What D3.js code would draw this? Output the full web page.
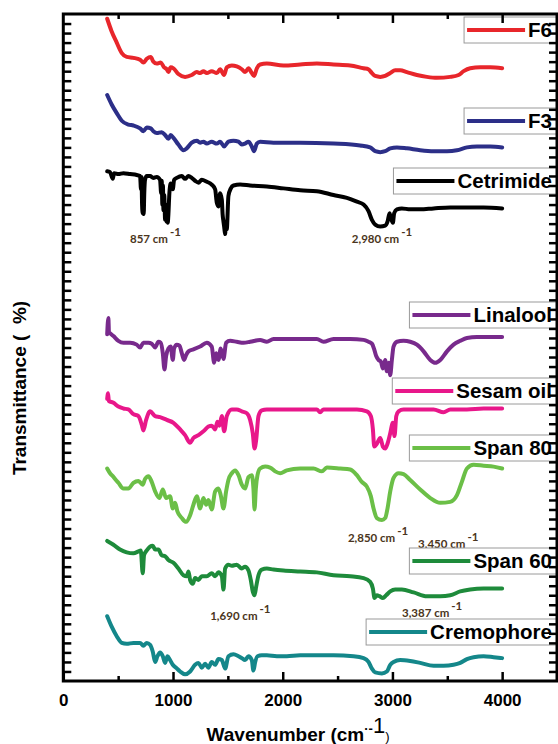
<!DOCTYPE html>
<html>
<head>
<meta charset="utf-8">
<script src="https://cdn.jsdelivr.net/npm/d3@7"></script>
<style>
  html, body { margin: 0; padding: 0; background: #fff; }
  svg { display: block; font-family: 'Liberation Sans', Arial, sans-serif; }
</style>
</head>
<body>
<div id="chart"></div>
<script>
// wavenumber (cm-1), transmittance (stacked, arbitrary units)
const f6 = [[400,695],[440,682],[487,670],[533,659],[578,655],[640,654],[700,652],[730,649],[761,653],[797,655],[821,650],[852,648],[888,649],[919,644],[943,642],[958,639],[979,644],[1004,643],[1049,637],[1110,634],[1171,636],[1217,639],[1247,638],[1277,640],[1308,638],[1353,640],[1399,638],[1429,642],[1466,636],[1490,644],[1536,646],[1581,645],[1627,642],[1657,639],[1688,643],[1718,638],[1739,635],[1764,643],[1794,647],[1855,648],[2007,646],[2159,647],[2311,648],[2463,647],[2615,646],[2737,643],[2782,642],[2813,638],[2843,635],[2889,634],[2934,635],[2980,638],[3025,641],[3071,641],[3132,639],[3223,636],[3314,634],[3405,633],[3527,634],[3603,636],[3649,640],[3709,643],[3801,644],[3892,644],[4000,643]]
const f3 = [[400,615],[441,605],[487,596],[533,588],[593,584],[639,583],[700,580],[730,577],[761,581],[797,580],[821,577],[852,575],[897,576],[928,573],[958,569],[979,573],[1004,570],[1049,563],[1095,557],[1125,559],[1171,565],[1217,567],[1247,565],[1277,566],[1308,564],[1353,566],[1399,564],[1429,566],[1466,561],[1505,566],[1551,567],[1597,566],[1627,563],[1657,564],[1688,566],[1718,561],[1739,556],[1764,564],[1794,566],[1916,565],[2159,565],[2463,564],[2706,562],[2797,560],[2843,556],[2889,555],[2934,556],[2980,559],[3041,560],[3132,559],[3253,557],[3375,556],[3497,556],[3588,557],[3679,560],[3770,561],[3892,561],[4000,560]]
const cetrimide = [[400,535],[426,534],[451,527],[463,533],[502,532],[548,533],[609,532],[669,531],[700,530],[708,516],[713,529],[718,500],[724,491],[729,503],[733,490],[738,512],[745,526],[761,530],[791,530],[821,528],[852,529],[882,526],[892,512],[897,525],[903,500],[908,520],[913,494],[920,510],[928,484],[934,500],[940,482],[946,496],[952,481],[958,490],[967,512],[979,522],[998,516],[1010,526],[1034,528],[1080,530],[1110,527],[1141,530],[1171,528],[1201,525],[1232,523],[1262,526],[1308,524],[1353,521],[1384,516],[1399,502],[1414,498],[1429,512],[1445,505],[1452,490],[1460,482],[1468,475],[1475,469],[1482,480],[1490,474],[1505,509],[1527,517],[1551,520],[1612,521],[1703,520],[1855,519],[2007,517],[2159,515],[2311,514],[2463,510],[2585,507],[2676,503],[2737,500],[2782,493],[2813,484],[2843,479],[2889,477],[2934,478],[2955,482],[2974,491],[2986,486],[3004,481],[3016,491],[3041,495],[3086,496],[3162,495],[3253,495],[3375,496],[3527,497],[3679,497],[3831,497],[4000,496]]
const linalool = [[400,364],[411,381],[416,366],[426,365],[457,362],[502,357],[548,355],[609,355],[669,353],[700,350],[730,355],[776,355],[806,354],[837,350],[867,356],[888,355],[907,344],[922,327],[937,341],[958,349],[979,351],[998,337],[1010,349],[1034,353],[1059,352],[1080,344],[1101,337],[1119,342],[1141,346],[1186,348],[1247,351],[1308,355],[1353,351],[1375,334],[1393,344],[1414,337],[1435,349],[1460,338],[1484,355],[1521,357],[1581,356],[1642,355],[1703,356],[1794,358],[1855,356],[1916,359],[2037,359],[2159,359],[2311,359],[2372,356],[2463,359],[2615,359],[2737,358],[2782,356],[2813,354],[2834,348],[2852,341],[2873,337],[2895,335],[2913,328],[2934,337],[2949,325],[2965,334],[2980,321],[2995,337],[3010,351],[3041,356],[3101,357],[3162,356],[3223,353],[3284,346],[3345,337],[3390,334],[3436,337],[3497,346],[3557,353],[3618,357],[3679,360],[3770,361],[3892,361],[4000,361]]
const sesamOil = [[400,296],[408,302],[415,294],[457,292],[502,288],[548,286],[593,285],[639,280],[685,278],[715,269],[730,263],[755,274],[791,283],[837,278],[882,277],[943,274],[1004,271],[1065,264],[1110,258],[1156,250],[1186,255],[1232,258],[1277,262],[1323,267],[1353,268],[1384,264],[1405,272],[1423,268],[1445,278],[1466,262],[1490,278],[1536,285],[1581,285],[1627,283],[1673,281],[1703,274],[1727,260],[1743,244],[1758,253],[1779,278],[1809,284],[1855,285],[1977,285],[2159,285],[2311,285],[2341,282],[2372,285],[2524,285],[2676,285],[2767,283],[2803,278],[2822,264],[2834,246],[2858,249],[2889,255],[2913,246],[2934,244],[2955,249],[2980,260],[3004,271],[3019,257],[3035,278],[3056,283],[3101,285],[3223,285],[3375,285],[3466,282],[3527,285],[3679,285],[3831,286],[4000,286]]
const span80 = [[400,223],[426,218],[451,215],[472,212],[502,208],[548,202],[593,202],[639,208],[685,210],[724,206],[745,212],[776,215],[806,209],[837,199],[876,192],[907,201],[937,192],[973,194],[998,181],[1019,187],[1040,178],[1080,171],[1119,167],[1156,174],[1186,185],[1217,194],[1247,181],[1277,192],[1302,185],[1323,190],[1353,180],[1384,199],[1414,202],[1435,195],[1460,181],[1484,199],[1505,211],[1536,218],[1566,221],[1597,216],[1627,206],[1657,202],[1688,214],[1718,216],[1733,202],[1743,180],[1755,202],[1770,216],[1794,223],[1840,225],[1885,224],[1931,220],[1977,218],[2037,221],[2159,223],[2281,223],[2357,220],[2402,224],[2524,223],[2615,222],[2676,216],[2721,209],[2767,204],[2803,194],[2828,181],[2858,171],[2904,169],[2934,171],[2955,181],[2980,199],[3010,213],[3056,218],[3101,217],[3162,211],[3253,201],[3345,192],[3436,187],[3527,188],[3588,195],[3633,209],[3679,223],[3740,227],[3831,226],[3922,225],[4000,223]]
const span60 = [[400,147],[457,143],[517,138],[578,135],[639,134],[685,136],[706,137],[724,113],[736,132],[761,137],[791,141],[815,142],[837,138],[867,138],[897,132],[928,131],[958,127],[1004,124],[1049,118],[1095,111],[1125,110],[1141,115],[1156,106],[1180,102],[1201,108],[1232,106],[1262,110],[1308,110],[1353,113],[1384,110],[1414,114],[1445,110],[1460,96],[1475,118],[1505,122],[1536,121],[1581,122],[1627,118],[1657,120],[1688,116],[1709,106],[1727,94],[1743,90],[1758,99],[1779,111],[1809,117],[1855,118],[1916,117],[2007,116],[2159,115],[2311,114],[2463,111],[2615,110],[2737,108],[2797,104],[2822,97],[2837,87],[2858,90],[2883,89],[2913,87],[2943,90],[2980,94],[3025,96],[3086,96],[3193,93],[3314,89],[3436,89],[3527,90],[3618,94],[3709,96],[3831,97],[4000,97]]
const cremophore = [[400,68],[441,57],[487,47],[533,40],[578,39],[639,40],[700,40],[730,37],[761,40],[791,38],[815,31],[837,20],[858,26],[882,30],[907,26],[928,19],[949,26],[973,22],[998,17],[1028,14],[1065,10],[1110,7],[1156,10],[1201,17],[1232,19],[1262,14],[1293,18],[1323,14],[1353,20],[1384,17],[1414,23],[1445,22],[1475,13],[1505,26],[1551,28],[1597,26],[1627,24],[1657,22],[1688,26],[1718,22],[1733,11],[1749,20],[1770,26],[1809,27],[1855,27],[1946,26],[2037,26],[2159,27],[2311,27],[2463,27],[2645,26],[2737,24],[2782,20],[2813,13],[2843,9],[2904,8],[2949,10],[2980,17],[3010,20],[3071,22],[3162,21],[3253,19],[3375,16],[3466,16],[3557,17],[3618,19],[3679,23],[3740,25],[3831,26],[3922,25],[4000,24]]

const seriesNames = ['F6', 'F3', 'Cetrimide', 'Linalool', 'Sesam oil', 'Span 80', 'Span 60', 'Cremophore']
const seriesData = [f6, f3, cetrimide, linalool, sesamOil, span80, span60, cremophore]
const seriesColors = ['#e8262b', '#2c2f88', '#000000', '#782a8c', '#e8178a', '#6bbf47', '#1e8b3b', '#14878a']

// peak annotations: label, wavenumber, transmittance
const peakLabels = ['857', '2,980', '2,850', '3,450', '1,690', '3,387']
const peakX = [608, 2630, 2594, 3234, 1339, 3087]
const peakY = [460, 460, 146, 140, 64, 67]

const xTicksMajor = [0, 1000, 2000, 3000, 4000]
const xTicksMinor = [500, 1500, 2500, 3500]

// legend box tops (px), one per series
const legendTop = [17, 108, 168, 302, 378, 435, 548, 619]

const W = 558, H = 744
const x = d3.scaleLinear().domain([0, 4500]).range([63.3, 557])
const y = d3.scaleLinear().domain([0, 700]).range([681, 14])

const svg = d3.select('#chart').append('svg').attr('width', W).attr('height', H)
svg.append('rect').attr('width', W).attr('height', H).attr('fill', '#fff')

// ── Spectra ──────────────────────────────────────────────
const line = d3.line().x(d => x(d[0])).y(d => y(d[1])).curve(d3.curveMonotoneX)
svg.append('g').selectAll('path')
  .data(seriesData)
  .join('path')
  .attr('d', d => line(d))
  .attr('fill', 'none')
  .attr('stroke', (d, i) => seriesColors[i])
  .attr('stroke-width', 4)
  .attr('stroke-linejoin', 'round')
  .attr('stroke-linecap', 'round')

// ── Peak annotations ─────────────────────────────────────
const ann = svg.append('g')
  .style('font-family', 'Lato, "Open Sans", sans-serif')
  .style('font-weight', 'bold')
  .style('font-size', '11.5px')
  .attr('fill', '#4a3520')
peakLabels.forEach((lab, i) => {
  const t = ann.append('text').attr('x', x(peakX[i])).attr('y', y(peakY[i]))
  t.append('tspan').text(lab + '  cm')
  t.append('tspan').attr('dy', -7).attr('dx', 2).text('-1')
})

// ── Legend boxes ─────────────────────────────────────────
seriesNames.forEach((name, i) => {
  const g = svg.append('g')
  const top = legendTop[i]
  const txt = g.append('text')
    .attr('x', 552).attr('y', top + 20)
    .attr('text-anchor', 'end')
    .style('font-size', '20.5px').style('font-weight', 'bold')
    .text(name)
  const tw = txt.node().getComputedTextLength()
  const tx = 552 - tw
  const left = tx - 64
  g.insert('rect', 'text')
    .attr('x', left).attr('y', top).attr('width', 560 - left).attr('height', 26)
    .attr('fill', '#fff').attr('stroke', '#9a9a9a').attr('stroke-width', 1)
  g.insert('line', 'text')
    .attr('x1', left + 3).attr('x2', tx - 3).attr('y1', top + 13).attr('y2', top + 13)
    .attr('stroke', seriesColors[i]).attr('stroke-width', 4)
})

// ── Axes / frame ─────────────────────────────────────────
const tickStyle = g => {
  g.select('.domain').remove()
  g.selectAll('.tick line').attr('stroke', '#000').attr('stroke-width', 2.5)
}
svg.append('g').attr('transform', 'translate(0,681)')
  .call(d3.axisBottom(x).tickValues(xTicksMajor).tickSizeInner(-9).tickSizeOuter(0).tickPadding(13).tickFormat(d3.format('d')))
  .call(tickStyle)
  .call(g => g.selectAll('text').attr('fill', '#000').style('font-size', '17px').style('font-weight', 'bold').style('font-family', "'Liberation Sans', Arial, sans-serif"))
svg.append('g').attr('transform', 'translate(0,681)')
  .call(d3.axisBottom(x).tickValues(xTicksMinor).tickSizeInner(-5).tickSizeOuter(0).tickFormat(''))
  .call(tickStyle)
svg.append('g').attr('transform', 'translate(0,14)')
  .call(d3.axisTop(x).tickValues(xTicksMajor.slice(1)).tickSizeInner(-9).tickSizeOuter(0).tickFormat(''))
  .call(tickStyle)
svg.append('g').attr('transform', 'translate(0,14)')
  .call(d3.axisTop(x).tickValues(xTicksMinor).tickSizeInner(-5).tickSizeOuter(0).tickFormat(''))
  .call(tickStyle)
const yTicks = d3.range(10, 700, 10)
svg.append('g').attr('transform', 'translate(63.3,0)')
  .call(d3.axisLeft(y).tickValues(yTicks).tickSizeInner(-8).tickSizeOuter(0).tickFormat(''))
  .call(tickStyle)
svg.append('g').attr('transform', 'translate(557,0)')
  .call(d3.axisRight(y).tickValues(yTicks).tickSizeInner(-8).tickSizeOuter(0).tickFormat(''))
  .call(tickStyle)

svg.append('rect')
  .attr('x', x(0)).attr('y', y(700)).attr('width', x(4500) - x(0)).attr('height', y(0) - y(700))
  .attr('fill', 'none').attr('stroke', '#000').attr('stroke-width', 3)

// ── Axis titles ──────────────────────────────────────────
svg.append('text')
  .attr('transform', 'translate(26,388) rotate(-90)')
  .attr('text-anchor', 'middle')
  .style('font-size', '19px').style('font-weight', 'bold').style('white-space', 'pre')
  .text('Transmittance (  %)')

const xt = svg.append('text')
  .attr('x', 298).attr('y', 741)
  .attr('text-anchor', 'middle')
  .style('font-size', '19px').style('font-weight', 'bold')
xt.append('tspan').text('Wavenumber (cm')
xt.append('tspan').attr('dy', -8).style('font-size', '13px').text('·-')
xt.append('tspan').style('font-size', '22px').style('font-weight', 'normal').text('1')
xt.append('tspan').attr('dy', 8).style('font-size', '13px').style('font-weight', 'normal').text(')')
</script>
</body>
</html>
